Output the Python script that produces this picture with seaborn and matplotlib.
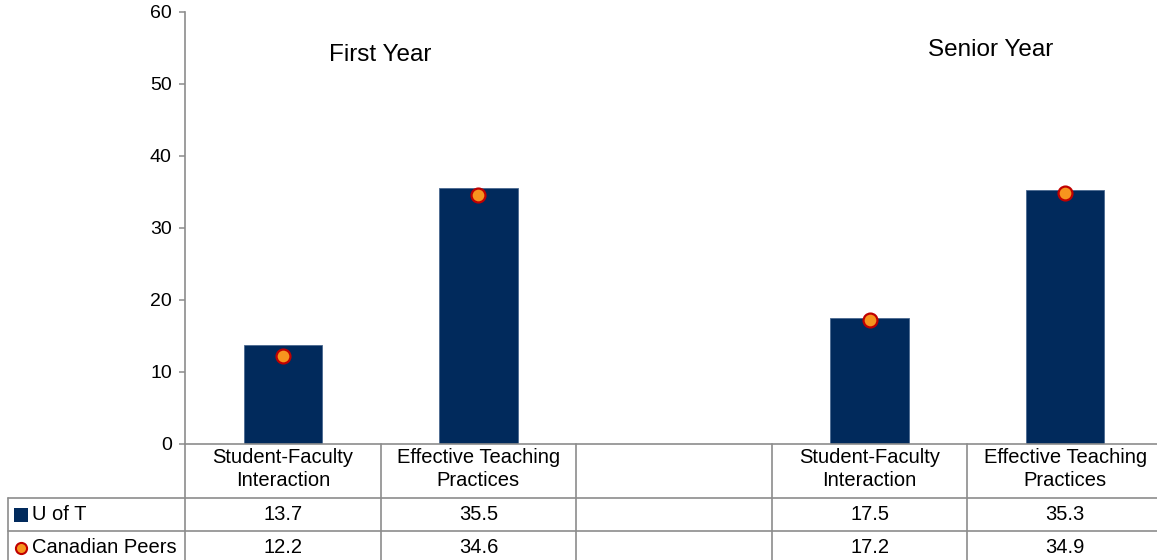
import numpy as np
import pandas as pd
import seaborn as sns
import matplotlib.pyplot as plt
from matplotlib.lines import Line2D
from matplotlib.transforms import blended_transform_factory

# Chart data
slots = ["fy_sfi", "fy_etp", "gap", "sy_sfi", "sy_etp"]
slot_labels = ["Student-Faculty\nInteraction", "Effective Teaching\nPractices", "",
               "Student-Faculty\nInteraction", "Effective Teaching\nPractices"]
uoft = [13.7, 35.5, np.nan, 17.5, 35.3]
peers = [12.2, 34.6, np.nan, 17.2, 34.9]
series_names = ["U of T", "Canadian Peers"]
group_titles = ["First Year", "Senior Year"]

NAVY = "#012A5C"
ORANGE = "#F7941E"
RED = "#C00000"
GRID = "#8C8C8C"

sns.set_style("white")
plt.rcParams["font.family"] = ["Liberation Sans", "DejaVu Sans"]
plt.rcParams["text.color"] = "black"
plt.rcParams["ytick.labelcolor"] = "black"

W, H = 1157, 560
fig = plt.figure(figsize=(W / 100, H / 100), dpi=100)

# axes box in pixel terms
left_px, right_px, top_px, bottom_px = 185, 1157, 12, 444
ax = fig.add_axes([left_px / W, 1 - bottom_px / H,
                   (right_px - left_px) / W, (bottom_px - top_px) / H])

df = pd.DataFrame({"slot": slots, "uoft": uoft, "peers": peers}).dropna()

sns.barplot(data=df, x="slot", y="uoft", order=slots, color=NAVY, width=0.4,
            saturation=1, errorbar=None, edgecolor="#4A6890", linewidth=0.6, ax=ax)
sns.stripplot(data=df, x="slot", y="peers", order=slots, jitter=False, size=10,
              color=ORANGE, edgecolor=RED, linewidth=1.6, ax=ax, zorder=5)

col_w = 195.6
ax.set_xlim(-0.5, -0.5 + (right_px - left_px) / col_w)
ax.set_ylim(0, 60)
ax.set_yticks(range(0, 61, 10))
ax.set_xticks([])
ax.set_xlabel("")
ax.set_ylabel("")
for side in ["top", "right"]:
    ax.spines[side].set_visible(False)
for side in ["left", "bottom"]:
    ax.spines[side].set_color(GRID)
    ax.spines[side].set_linewidth(1.2)
ax.tick_params(axis="y", direction="out", length=4.5, width=1.1, color=GRID,
               labelsize=14, pad=5, left=True, labelcolor="black")

# group titles
ax.text(0.5, 53.2, group_titles[0], ha="center", va="baseline", fontsize=17.5)
ax.text(3.62, 53.9, group_titles[1], ha="center", va="baseline", fontsize=17.5)

# data table below the axes
def fy(py):
    return 1 - py / H

def fx(px):
    return px / W

blend = blended_transform_factory(ax.transData, fig.transFigure)
row_lines = [498, 531, 564]
line_kw = dict(color=GRID, linewidth=1.2, clip_on=False)

edges = np.arange(len(slots) + 1) - 0.5
for e in edges:
    ax.add_line(Line2D([e, e], [fy(bottom_px), fy(row_lines[-1])], transform=blend, **line_kw))
fig.add_artist(Line2D([fx(8), fx(8)], [fy(row_lines[0]), fy(row_lines[-1])], **line_kw))
for r in row_lines:
    fig.add_artist(Line2D([fx(8), 1], [fy(r), fy(r)], **line_kw))

for i, lab in enumerate(slot_labels):
    if lab:
        ax.text(i, fy(469), lab, transform=blend,
                ha="center", va="center", fontsize=14.5, linespacing=1.22)

for vals, (top, bot) in zip([uoft, peers], [(row_lines[0], row_lines[1]), (row_lines[1], row_lines[2])]):
    yc = fy((top + bot) / 2)
    for i, v in enumerate(vals):
        if not np.isnan(v):
            ax.text(i, yc, f"{v:.1f}", transform=blend, ha="center", va="center", fontsize=14.5)

# row labels with legend keys
for name, marker, msize, face, edge, (top, bot) in zip(
        series_names, ["s", "o"], [9.5, 8], [NAVY, ORANGE], [NAVY, RED],
        [(row_lines[0], row_lines[1]), (row_lines[1], row_lines[2])]):
    yc = fy((top + bot) / 2)
    fig.add_artist(Line2D([fx(21)], [yc], marker=marker, markersize=msize,
                          markerfacecolor=face, markeredgecolor=edge,
                          markeredgewidth=1.5 if marker == "o" else 0, linestyle="none"))
    fig.text(fx(32), yc, name, ha="left", va="center", fontsize=14.5)

fig.savefig("out.png", dpi=100, facecolor="white")
